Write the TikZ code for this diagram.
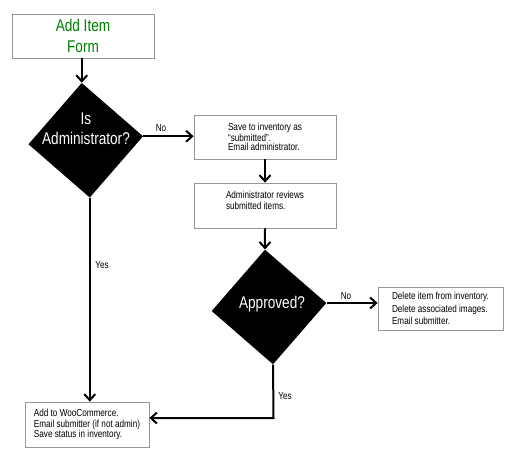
\documentclass[tikz,border=0pt]{standalone}
\usepackage{fontspec}
\setmainfont[FakeStretch=0.8]{Liberation Sans}
\usepackage{tikz}
\usepackage{xcolor}
\usetikzlibrary{arrows.meta,positioning,shapes.geometric}

\definecolor{formgreen}{RGB}{0,128,0}
\definecolor{boxgray}{RGB}{150,150,150}

\begin{document}
\begin{tikzpicture}[
    x=1pt, y=-1pt,
    box/.style={rectangle, draw=boxgray, fill=white, line width=0.8pt, inner sep=0pt, align=left, font=\fontsize{10.2}{10.5}\selectfont},
    decision/.style={diamond, fill=black, inner sep=0pt, minimum width=115pt, minimum height=115pt, rotate=4},
    decisiontext/.style={text=white, align=center, font=\fontsize{17}{20}\selectfont},
    arrow/.style={-{Straight Barb[length=6pt,width=11pt]}, line width=2pt},
    edgelabel/.style={font=\fontsize{10.2}{11}\selectfont}
]
\useasboundingbox (0,0) rectangle (512,459);

\node[box, minimum width=142pt, minimum height=44pt, align=center, text=formgreen, font=\fontsize{17}{21}\selectfont] (form) at (83,36) {Add Item\\Form};
\node[decision] (isadmin) at (85.75,140.25) {};
\node[decisiontext] (isadmintext) at (86,129) {Is\\Administrator?};
\node[box, minimum width=142pt, minimum height=44pt, font=\fontsize{10.2}{9.5}\selectfont] (save) at (265,137) {Save to inventory as\\``submitted''.\\Email administrator.};
\node[box, minimum width=142pt, minimum height=45pt, font=\fontsize{10.2}{11}\selectfont] (review) at (265,205.5) {Administrator reviews\\submitted items.\\\mbox{}};
\node[decision] (approved) at (269,307) {};
\node[decisiontext] (approvedtext) at (272,304) {Approved?};
\node[box, minimum width=125pt, minimum height=43pt, font=\fontsize{10.2}{12.5}\selectfont] (delete) at (440.5,308.5) {Delete item from inventory.\\Delete associated images.\\Email submitter.};
\node[box, minimum width=124pt, minimum height=45pt, font=\fontsize{10.2}{10.8}\selectfont] (done) at (87,424.5) {Add to WooCommerce.\\Email submitter (if not admin)\\Save status in inventory.};
\coordinate (yesturn) at (273.5,418);

% connectors
\draw[arrow] (isadmin.north |- form.south) -- (isadmin.north);
\draw[arrow] (isadmin.east) -- (isadmin.east -| save.west);
\draw[arrow] (isadmin.south) -- (isadmin.south |- done.north);
\draw[arrow] (save) -- (review);
\draw[arrow] (review.south) -- (approved.north);
\draw[arrow] (approved.east) -- (approved.east -| delete.west);
\draw[arrow] (approved.south) -- (yesturn) -- (yesturn -| done.east);

\node[edgelabel] (noadmin) at (161,128) {No};
\node[edgelabel] (yesadmin) at (102,265) {Yes};
\node[edgelabel] (noapproved) at (346,296) {No};
\node[edgelabel] (yesapproved) at (285,396) {Yes};
\end{tikzpicture}
\end{document}
